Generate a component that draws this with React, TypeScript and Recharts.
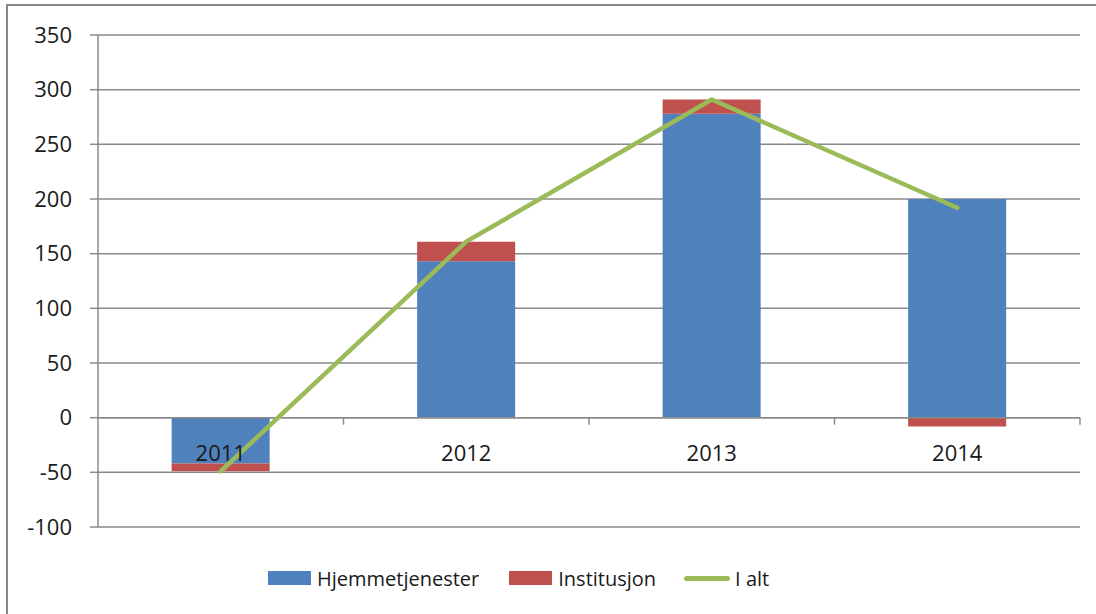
import React from 'react';
import { ComposedChart, Bar, Line, XAxis, YAxis, CartesianGrid, ReferenceLine, Legend } from 'recharts';

const years = ['2011', '2012', '2013', '2014'];
const hjemmetjenester = [-42, 143, 278, 200];
const institusjon = [-7, 18, 13, -8];
const iAlt = [-49, 161, 291, 192];
const yTicks = [-100, -50, 0, 50, 100, 150, 200, 250, 300, 350];

const data = years.map((y, i) => ({
  year: y,
  Hjemmetjenester: hjemmetjenester[i],
  Institusjon: institusjon[i],
  'I alt': iAlt[i],
}));

const W = 1096;
const H = 614;
const PLOT_LEFT = 98;
const PLOT_RIGHT = 1080;
const PLOT_TOP = 35;
const PLOT_BOTTOM = 527;
const Y_MIN = -100;
const Y_MAX = 350;
const ZERO_Y = PLOT_TOP + ((PLOT_BOTTOM - PLOT_TOP) * (Y_MAX - 0)) / (Y_MAX - Y_MIN);
const BAND = (PLOT_RIGHT - PLOT_LEFT) / years.length;
const X_AXIS_H = 2;

const FONT = '"Open Sans", sans-serif';
const GRID = '#8a8a8a';
const BLUE = '#4F81BD';
const RED = '#C0504D';
const GREEN = '#9BBB59';

const renderXTick = (props: any) => {
  const { x, payload } = props;
  return (
    <g key={`xt-${payload.value}`}>
      <line x1={x + BAND / 2} x2={x + BAND / 2} y1={ZERO_Y} y2={ZERO_Y + 7} stroke={GRID} strokeWidth={1.5} />
      <text x={x} y={ZERO_Y + 34} textAnchor="middle" dominantBaseline="central" fontFamily={FONT} fontSize={22} fill="#1a1a1a">
        {payload.value}
      </text>
    </g>
  );
};

const LegendContent = () => (
  <div style={{ display: 'flex', alignItems: 'center', paddingLeft: 268, fontFamily: FONT, fontSize: 20, color: '#1a1a1a', height: 26 }}>
    <span style={{ display: 'inline-block', width: 43, height: 14, background: BLUE, marginRight: 6 }} />
    <span style={{ marginRight: 30 }}>Hjemmetjenester</span>
    <span style={{ display: 'inline-block', width: 43, height: 14, background: RED, marginRight: 6 }} />
    <span style={{ marginRight: 28 }}>Institusjon</span>
    <span style={{ display: 'inline-block', width: 46, height: 5, background: GREEN, borderRadius: 3, marginRight: 5 }} />
    <span>I alt</span>
  </div>
);

export default function App() {
  return (
    <div style={{ position: 'absolute', left: 0, top: 0, width: W, height: H, background: '#fff', overflow: 'hidden' }}>
      <div style={{ position: 'absolute', left: 6, top: 4, width: W, height: H, borderTop: '2px solid #878787', borderLeft: '2px solid #878787' }} />
      <div style={{ position: 'absolute', left: 0, top: 0 }}>
        <ComposedChart
          width={W}
          height={H}
          data={data}
          stackOffset="sign"
          barCategoryGap="30%"
          margin={{ top: PLOT_TOP, right: W - PLOT_RIGHT, bottom: H - PLOT_BOTTOM - X_AXIS_H, left: 0 }}
        >
          <CartesianGrid vertical={false} stroke={GRID} strokeWidth={1.5} />
          <XAxis dataKey="year" height={X_AXIS_H} axisLine={false} tickLine={false} tick={renderXTick} interval={0} />
          <YAxis
            width={PLOT_LEFT}
            domain={[Y_MIN, Y_MAX]}
            ticks={yTicks}
            interval={0}
            axisLine={{ stroke: GRID, strokeWidth: 1.5 }}
            tickLine={{ stroke: GRID, strokeWidth: 1.5 }}
            tickSize={8}
            tickMargin={18}
            tick={{ fontFamily: FONT, fontSize: 22, fill: '#1a1a1a' }}
          />
          <Bar dataKey="Hjemmetjenester" stackId="a" fill={BLUE} isAnimationActive={false} />
          <Bar dataKey="Institusjon" stackId="a" fill={RED} isAnimationActive={false} />
          <ReferenceLine y={0} stroke={GRID} strokeWidth={1.5} />
          <Line dataKey="I alt" type="linear" stroke={GREEN} strokeWidth={4.5} dot={false} strokeLinecap="round" isAnimationActive={false} />
          <Legend verticalAlign="middle" align="center" content={<LegendContent />} wrapperStyle={{ top: 565, left: 0, width: W }} />
        </ComposedChart>
      </div>
    </div>
  );
}
